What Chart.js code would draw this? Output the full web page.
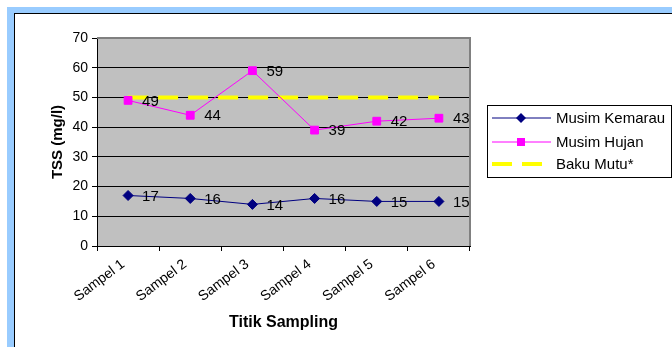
<!DOCTYPE html>
<html>
<head>
<meta charset="utf-8">
<script src="https://cdn.jsdelivr.net/npm/chart.js@4.4.1/dist/chart.umd.min.js"></script>
<style>
html,body{margin:0;padding:0;background:#fff;}
#wrap{width:672px;height:347px;position:relative;}
</style>
</head>
<body>
<div id="wrap"><canvas id="c" width="672" height="347"></canvas></div>
<script>
const categories = ["Sampel 1","Sampel 2","Sampel 3","Sampel 4","Sampel 5","Sampel 6"];
const musimKemarau = [17,16,14,16,15,15];
const musimHujan = [49,44,59,39,42,43];
const bakuMutu = [50,50,50,50,50,50];
const yTicks = [0,10,20,30,40,50,60,70];
const yTitle = "TSS (mg/l)";
const xTitle = "Titik Sampling";

const FONT = "Arial, 'Liberation Sans', sans-serif";

const frame = {
  id: 'frame',
  beforeDraw(chart) {
    const ctx = chart.ctx, W = chart.width, H = chart.height;
    ctx.save();
    ctx.fillStyle = '#ffffff';
    ctx.fillRect(0,0,W,H);
    ctx.fillStyle = '#99CCFF';
    ctx.fillRect(7,7,W-7,H-7);
    ctx.fillStyle = '#000000';
    ctx.fillRect(14,13,W-14,H-13);
    ctx.fillStyle = '#ffffff';
    ctx.fillRect(15,14,W-15,H-14);
    const a = chart.chartArea;
    ctx.fillStyle = '#C0C0C0';
    ctx.fillRect(a.left, a.top, a.right-a.left, a.bottom-a.top);
    ctx.restore();
  },
  afterDraw(chart) {
    const ctx = chart.ctx, a = chart.chartArea;
    ctx.save();
    ctx.strokeStyle = '#808080';
    ctx.lineWidth = 2;
    ctx.beginPath();
    ctx.moveTo(a.left, a.top);
    ctx.lineTo(a.right, a.top);
    ctx.lineTo(a.right, a.bottom);
    ctx.stroke();
    ctx.restore();
  }
};

const valueLabels = {
  id: 'valueLabels',
  afterDatasetsDraw(chart) {
    const ctx = chart.ctx;
    ctx.save();
    ctx.font = '15px ' + FONT;
    ctx.fillStyle = '#000';
    ctx.textAlign = 'left';
    ctx.textBaseline = 'middle';
    [0,1].forEach(di => {
      const meta = chart.getDatasetMeta(di);
      const ds = chart.data.datasets[di];
      meta.data.forEach((pt, i) => {
        ctx.fillText(String(ds.data[i]), pt.x + 14, pt.y + 1);
      });
    });
    ctx.restore();
  }
};

const customLegend = {
  id: 'customLegend',
  afterDraw(chart) {
    const ctx = chart.ctx;
    const bx = 487, by = 105, bw = 184, bh = 72;
    ctx.save();
    ctx.fillStyle = '#fff';
    ctx.fillRect(bx, by, bw, bh);
    ctx.strokeStyle = '#000';
    ctx.lineWidth = 1;
    ctx.strokeRect(bx + 0.5, by + 0.5, bw, bh);
    const rows = [118, 142, 164];
    chart.data.datasets.forEach((ds, i) => {
      const y = rows[i];
      ctx.strokeStyle = ds.borderColor;
      ctx.lineWidth = ds.borderWidth;
      ctx.setLineDash(ds.borderDash || []);
      ctx.beginPath();
      ctx.moveTo(492, y);
      ctx.lineTo(551, y);
      ctx.stroke();
      ctx.setLineDash([]);
      ctx.fillStyle = ds.pointBackgroundColor;
      if (ds.pointStyle === 'rectRot') {
        ctx.beginPath();
        ctx.moveTo(521, y-5); ctx.lineTo(526, y); ctx.lineTo(521, y+5); ctx.lineTo(516, y); ctx.closePath();
        ctx.fill();
      } else if (ds.pointStyle === 'rect') {
        ctx.fillRect(517, y-4, 8, 8);
      }
      ctx.fillStyle = '#000';
      ctx.font = '15px ' + FONT;
      ctx.textBaseline = 'middle';
      ctx.textAlign = 'left';
      ctx.fillText(ds.label, 556, y + 1);
    });
    ctx.restore();
  }
};

new Chart(document.getElementById('c'), {
  type: 'line',
  data: {
    labels: categories,
    datasets: [
      {
        label: 'Musim Kemarau',
        data: musimKemarau,
        borderColor: '#000080',
        backgroundColor: '#000080',
        pointBackgroundColor: '#000080',
        pointBorderColor: '#000080',
        pointStyle: 'rectRot',
        pointRadius: 5,
        borderWidth: 1,
        tension: 0
      },
      {
        label: 'Musim Hujan',
        data: musimHujan,
        borderColor: '#FF00FF',
        backgroundColor: '#FF00FF',
        pointBackgroundColor: '#FF00FF',
        pointBorderColor: '#FF00FF',
        pointStyle: 'rect',
        pointRadius: 5.5,
        borderWidth: 1,
        tension: 0
      },
      {
        label: 'Baku Mutu*',
        data: bakuMutu,
        borderColor: '#FFFF00',
        backgroundColor: '#FFFF00',
        pointBackgroundColor: '#FFFF00',
        pointRadius: 0,
        borderWidth: 4,
        borderDash: [20, 10],
        tension: 0
      }
    ]
  },
  options: {
    responsive: false,
    animation: false,
    devicePixelRatio: 1,
    layout: { padding: { left: 0, top: 38, right: 202, bottom: 0 } },
    plugins: { legend: { display: false }, tooltip: { enabled: false } },
    scales: {
      x: {
        type: 'category',
        offset: true,
        afterFit(s) { s.height = 101; },
        grid: { display: true, drawOnChartArea: false, drawTicks: true, tickLength: 5, color: '#000', offset: true },
        border: { display: true, color: '#000', width: 1 },
        ticks: { color: '#000', font: { family: FONT, size: 14 }, minRotation: 37, maxRotation: 37, padding: 5, labelOffset: -5 },
        title: { display: true, text: xTitle, color: '#000', font: { family: FONT, size: 16, weight: 'bold' }, padding: { top: 0, bottom: 15 } }
      },
      y: {
        min: 0, max: 70,
        afterFit(s) { s.width = 97; },
        afterBuildTicks(s) { s.ticks = yTicks.map(v => ({ value: v })); },
        grid: { color: '#000', lineWidth: 1, tickLength: 5, drawTicks: true },
        border: { display: true, color: '#000', width: 1 },
        ticks: { color: '#000', font: { family: FONT, size: 14 }, padding: 4 },
        title: { display: true, text: yTitle, color: '#000', font: { family: FONT, size: 15, weight: 'bold' }, padding: { top: 49, bottom: 0 } }
      }
    }
  },
  plugins: [frame, valueLabels, customLegend]
});
</script>
</body>
</html>
